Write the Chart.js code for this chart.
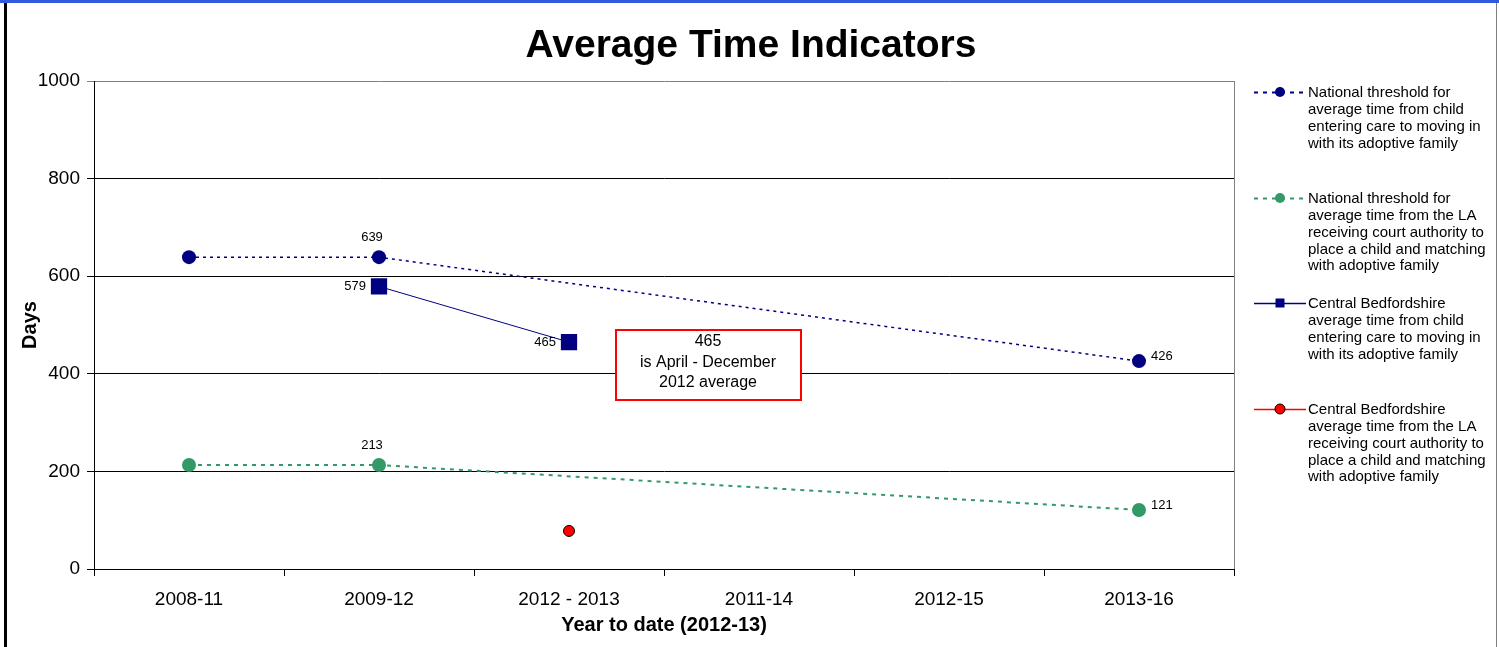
<!DOCTYPE html>
<html>
<head>
<meta charset="utf-8">
<script src="https://cdn.jsdelivr.net/npm/chart.js@4/dist/chart.umd.min.js"></script>
<style>
  html, body { margin: 0; padding: 0; background: #fff; }
  #wrap { width: 1499px; height: 647px; position: relative; }
</style>
</head>
<body>
<div id="wrap"><canvas id="timeChart"></canvas></div>
<script>
const years = ['2008-11', '2009-12', '2012 - 2013', '2011-14', '2012-15', '2013-16'];
const nationalCare = [639, 639, null, null, null, 426];
const nationalCourt = [213, 213, null, null, null, 121];
const cbCare = [null, 579, 465, null, null, null];
const cbCourt = [null, null, 78, null, null, null];
const yMin = 0, yMax = 1000, yStep = 200;

const legendCare = ['National threshold for', 'average time from child', 'entering care to moving in', 'with its adoptive family'];
const legendCourt = ['National threshold for', 'average time from the LA', 'receiving court authority to', 'place a child and matching', 'with adoptive family'];
const legendCbCare = ['Central Bedfordshire', 'average time from child', 'entering care to moving in', 'with its adoptive family'];
const legendCbCourt = ['Central Bedfordshire', 'average time from the LA', 'receiving court authority to', 'place a child and matching', 'with adoptive family'];
const noteLines = ['465', 'is April - December', '2012 average'];

const FONT = "'Liberation Sans', Arial, sans-serif";
const NAVY = '#000080', GREEN = '#339966', RED = '#ff0000';

Chart.defaults.font.family = FONT;
Chart.defaults.color = '#000';

// value labels next to chosen points
const pointLabels = {
  id: 'pointLabels',
  afterDatasetsDraw(chart) {
    const ctx = chart.ctx;
    ctx.save();
    ctx.font = '13px ' + FONT;
    ctx.fillStyle = '#000';
    ctx.textBaseline = 'middle';
    chart.data.datasets.forEach((ds, i) => {
      const meta = chart.getDatasetMeta(i);
      Object.entries(ds.valueLabels || {}).forEach(([idx, side]) => {
        const p = meta.data[idx];
        const v = ds.data[idx];
        if (side === 'above') {
          ctx.textAlign = 'center';
          ctx.fillText(v, p.x - 7, p.y - 20);
        } else if (side === 'right') {
          ctx.textAlign = 'left';
          ctx.fillText(v, p.x + 12, p.y - 5);
        } else {
          ctx.textAlign = 'right';
          ctx.fillText(v, p.x - 13, p.y);
        }
      });
    });
    ctx.restore();
  }
};

// title, frame, note box and the legend on the right
const decor = {
  id: 'decor',
  afterDraw(chart) {
    const { ctx, chartArea: a } = chart;
    ctx.save();

    ctx.fillStyle = '#2f5be0';
    ctx.fillRect(0, 0, chart.width, 3);
    ctx.fillStyle = '#000';
    ctx.fillRect(4, 3, 3, chart.height);
    ctx.fillStyle = '#808080';
    ctx.fillRect(1496, 3, 1, chart.height);

    // right border of plot
    ctx.strokeStyle = '#808080';
    ctx.lineWidth = 1;
    ctx.beginPath();
    ctx.moveTo(a.right + 0.5, a.top);
    ctx.lineTo(a.right + 0.5, a.bottom);
    ctx.stroke();

    ctx.fillStyle = '#000';
    ctx.textAlign = 'center';
    ctx.textBaseline = 'middle';
    ctx.font = 'bold 39px ' + FONT;
    ctx.fillText('Average Time Indicators', 751, 46);

    // note box
    ctx.fillStyle = '#fff';
    ctx.fillRect(616, 330, 185, 70);
    ctx.strokeStyle = RED;
    ctx.lineWidth = 2;
    ctx.strokeRect(616, 330, 185, 70);
    ctx.fillStyle = '#000';
    ctx.font = '16px ' + FONT;
    noteLines.forEach((t, i) => ctx.fillText(t, 708, 342 + i * 20.5));

    // legend
    const tops = [92, 198, 303, 409];
    ctx.textAlign = 'left';
    ctx.font = '15px ' + FONT;
    chart.data.datasets.forEach((ds, i) => {
      const y = tops[i];
      ctx.strokeStyle = ds.borderColor;
      ctx.lineWidth = ds.borderDash ? 2 : 1.5;
      ctx.setLineDash(ds.borderDash ? [4, 5] : []);
      ctx.beginPath();
      ctx.moveTo(1254, y + 0.5);
      ctx.lineTo(1306, y + 0.5);
      ctx.stroke();
      ctx.setLineDash([]);
      ctx.fillStyle = ds.pointBackgroundColor || ds.backgroundColor;
      ctx.strokeStyle = ds.pointBorderColor || ds.borderColor;
      ctx.beginPath();
      if (ds.pointStyle === 'rect') {
        ctx.rect(1275.5, y - 4.5, 9, 9);
      } else {
        ctx.arc(1280, y, 5, 0, Math.PI * 2);
      }
      ctx.fill();
      if (ds.pointBorderWidth) { ctx.lineWidth = 1; ctx.stroke(); }
      ctx.fillStyle = '#000';
      ds.legendLines.forEach((t, k) => ctx.fillText(t, 1308, y + 1 + k * 16.8));
    });

    ctx.restore();
  }
};

new Chart(document.getElementById('timeChart'), {
  type: 'line',
  data: {
    labels: years,
    datasets: [
      {
        label: legendCare.join(' '),
        legendLines: legendCare,
        data: nationalCare,
        borderColor: NAVY,
        backgroundColor: NAVY,
        borderWidth: 1.5,
        borderDash: [3, 4],
        pointRadius: 7,
        pointBorderWidth: 0,
        spanGaps: true,
        valueLabels: { 1: 'above', 5: 'right' }
      },
      {
        label: legendCourt.join(' '),
        legendLines: legendCourt,
        data: nationalCourt,
        borderColor: GREEN,
        backgroundColor: GREEN,
        borderWidth: 2,
        borderDash: [4, 5],
        pointRadius: 7,
        pointBorderWidth: 0,
        spanGaps: true,
        valueLabels: { 1: 'above', 5: 'right' }
      },
      {
        label: legendCbCare.join(' '),
        legendLines: legendCbCare,
        data: cbCare,
        borderColor: NAVY,
        backgroundColor: NAVY,
        borderWidth: 1,
        pointStyle: 'rect',
        pointRadius: 11.5,
        pointBorderWidth: 0,
        spanGaps: true,
        valueLabels: { 1: 'left', 2: 'left' }
      },
      {
        label: legendCbCourt.join(' '),
        legendLines: legendCbCourt,
        data: cbCourt,
        borderColor: RED,
        backgroundColor: RED,
        pointBackgroundColor: RED,
        pointBorderColor: '#000',
        pointBorderWidth: 1,
        borderWidth: 1.5,
        pointRadius: 5.5
      }
    ]
  },
  options: {
    responsive: true,
    maintainAspectRatio: false,
    animation: false,
    layout: { padding: { top: 81, right: 265, bottom: 0, left: 0 } },
    plugins: {
      legend: { display: false },
      tooltip: { enabled: false }
    },
    scales: {
      x: {
        offset: true,
        grid: { drawOnChartArea: false, offset: true, tickLength: 7, color: '#000' },
        border: { color: '#000' },
        ticks: { font: { size: 19 }, padding: 12, maxRotation: 0, autoSkip: false },
        title: {
          display: true,
          text: 'Year to date (2012-13)',
          font: { size: 20, weight: 'bold' },
          padding: { top: 0, bottom: 10 }
        },
        afterFit(s) { s.height = 78; }
      },
      y: {
        min: yMin,
        max: yMax,
        ticks: { stepSize: yStep, font: { size: 19 }, padding: 7, callback: v => String(v) },
        grid: {
          tickLength: 7,
          color: c => (c.tick && c.tick.value === yMax ? '#808080' : '#000')
        },
        border: { color: '#000' },
        title: {
          display: true,
          text: 'Days',
          font: { size: 20, weight: 'bold' },
          padding: { top: 18, bottom: 0 }
        },
        afterFit(s) { s.width = 94; }
      }
    }
  },
  plugins: [pointLabels, decor]
});
</script>
</body>
</html>
